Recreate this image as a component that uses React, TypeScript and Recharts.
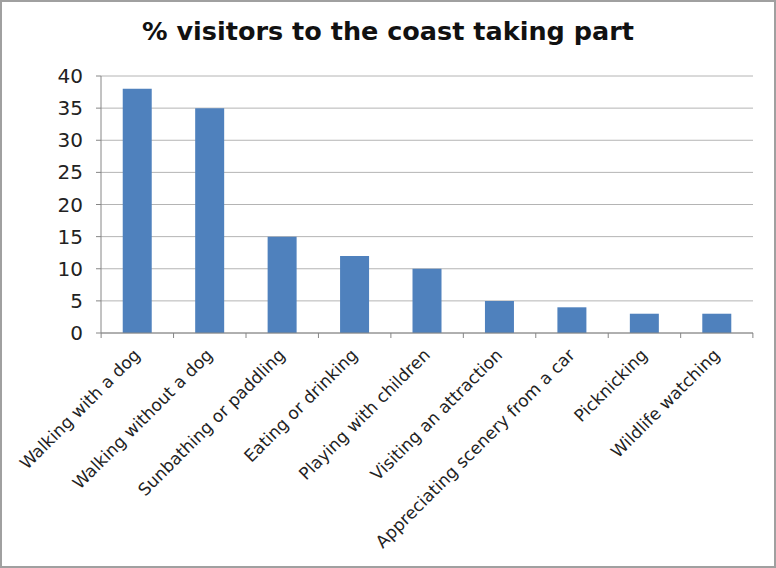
import React from "react";
import { BarChart, Bar, XAxis, YAxis, CartesianGrid } from "recharts";

const activities = [
  "Walking with a dog",
  "Walking without a dog",
  "Sunbathing or paddling",
  "Eating or drinking",
  "Playing with children",
  "Visiting an attraction",
  "Appreciating scenery from a car",
  "Picknicking",
  "Wildlife watching",
];
const percents = [38, 35, 15, 12, 10, 5, 4, 3, 3];
const yTicks = [0, 5, 10, 15, 20, 25, 30, 35, 40];

const W = 776;
const H = 568;
const FONT = "'DejaVu Sans', Verdana, sans-serif";
const AXIS = "#868686";

const data = activities.map((name, i) => ({ name, value: percents[i] }));

// rotated category label, plus a tick mark on the left edge of each band
const CatTick = (props: any) => {
  const { x, y, payload, index } = props;
  const half = 650 / activities.length / 2;
  return (
    <g>
      <line x1={x - half} y1={y - 8} x2={x - half} y2={y - 3} stroke={AXIS} />
      {index === activities.length - 1 && (
        <line x1={x + half} y1={y - 8} x2={x + half} y2={y - 3} stroke={AXIS} />
      )}
      <text
        x={x + 4}
        y={y + 15}
        transform={`rotate(-45, ${x + 4}, ${y + 15})`}
        textAnchor="end"
        fontSize={17}
        fontFamily={FONT}
        fill="#222"
      >
        {payload.value}
      </text>
    </g>
  );
};

export default function App() {
  return (
    <div
      style={{
        position: "absolute",
        left: 0,
        top: 0,
        width: W,
        height: H,
        boxSizing: "border-box",
        border: "2px solid #a0a0a0",
        background: "#fff",
      }}
    >
      <div
        style={{
          position: "absolute",
          left: 0,
          top: 14,
          width: W - 4,
          textAlign: "center",
          fontFamily: FONT,
          fontWeight: "bold",
          fontSize: 25.5,
          color: "#111",
        }}
      >
        % visitors to the coast taking part
      </div>
      <BarChart
        width={W - 4}
        height={H - 4}
        data={data}
        margin={{ top: 74, right: 21, left: 0, bottom: 3 }}
        barCategoryGap="30%"
      >
        <CartesianGrid vertical={false} stroke="#b4b4b4" />
        <XAxis
          dataKey="name"
          interval={0}
          height={230}
          stroke={AXIS}
          tickLine={false}
          tick={<CatTick />}
        />
        <YAxis
          width={99}
          domain={[0, 40]}
          ticks={yTicks}
          stroke={AXIS}
          tickSize={5}
          tickMargin={13}
          tick={{ fontSize: 20, fontFamily: FONT, fill: "#222" }}
        />
        <Bar dataKey="value" fill="#4F81BD" isAnimationActive={false} />
      </BarChart>
    </div>
  );
}
